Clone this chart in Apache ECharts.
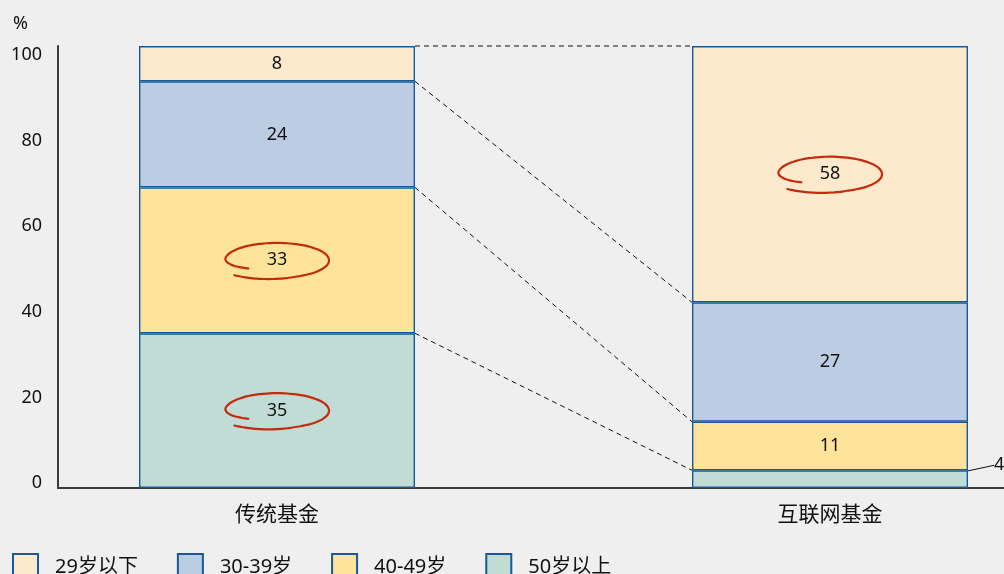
<!DOCTYPE html>
<html><head><meta charset="utf-8">
<script src="https://cdn.jsdelivr.net/npm/echarts@6/dist/echarts.min.js"></script>
<style>html,body{margin:0;padding:0;background:#efefef;}#c{width:1004px;height:574px;}</style>
</head><body><div id="c"></div>
<script>
const categories = ['传统基金', '互联网基金'];
const ageGroups = ['29岁以下', '30-39岁', '40-49岁', '50岁以上'];
const v29 = [8, 58];
const v30 = [24, 27];
const v40 = [33, 11];
const v50 = [35, 4];
const yTicks = [0, 20, 40, 60, 80, 100];
const circled = [['40-49岁', 0], ['50岁以上', 0], ['29岁以下', 1]];

const FONT = '"Noto Sans", "Noto Sans CJK SC", sans-serif';
const BAR_W = 276, HALF = BAR_W / 2;
const colors = { '29岁以下': '#fde9cc', '30-39岁': '#bccce2', '40-49岁': '#fee49a', '50岁以上': '#c0dcd5' };
const valuesByName = { '29岁以下': v29, '30-39岁': v30, '40-49岁': v40, '50岁以上': v50 };
const stackOrder = ['50岁以上', '40-49岁', '30-39岁', '29岁以下'];

const cum = categories.map((_, ci) => {
  let s = 0; const b = {};
  stackOrder.forEach(n => { b[n] = [s, s + valuesByName[n][ci]]; s += valuesByName[n][ci]; });
  return b;
});
const connectors = stackOrder.map(n => [0, 1, cum[0][n][1], cum[1][n][1]]);
const ellipses = circled.map(([n, ci]) => [ci, (cum[ci][n][0] + cum[ci][n][1]) / 2]);

const barSeries = stackOrder.map(n => ({
  name: n, type: 'bar', stack: 'a', barWidth: BAR_W, xAxisIndex: 2, yAxisIndex: 2,
  itemStyle: { color: colors[n], borderColor: '#175a97', borderWidth: 1.4 },
  label: { show: true, position: 'inside', color: '#111', fontSize: 18, fontFamily: FONT },
  data: valuesByName[n].map((v, ci) => {
    const d = { value: v };
    if (v < 6) {
      d.label = { position: [302, -5], align: 'left', verticalAlign: 'middle' };
      d.labelLine = { show: true, lineStyle: { color: '#111', width: 1 } };
    }
    return d;
  }),
  emphasis: { disabled: true }
}));

function kOf(deg) {
  if (deg < 190) { const f = (deg - 140) / 50; return 0.72 + 0.28 * Math.sin(f * Math.PI / 2); }
  if (deg < 430) return 1.0;
  const f = (deg - 430) / 64; return 1.0 + 0.18 * f;
}

const AX = { color: '#3a3a3a', width: 2 };
const chart = echarts.init(document.getElementById('c'));
chart.setOption({
  backgroundColor: '#efefef',
  animation: false,
  textStyle: { fontFamily: FONT },
  grid: [
    { left: 58, right: 0, top: 46, bottom: 86, outerBoundsMode: 'none' },
    { left: 58, right: 0, top: 55, bottom: 91, outerBoundsMode: 'none' },
    { left: 0.5, width: 1106, top: 46, bottom: 86, outerBoundsMode: 'none' }
  ],
  legend: {
    data: ageGroups, left: 7, top: 548, icon: 'rect', itemWidth: 25, itemHeight: 26, itemGap: 39,
    textStyle: { fontSize: 20, color: '#111', fontFamily: FONT, padding: [0, 0, 0, 12] },
    selectedMode: false
  },
  xAxis: [
    { gridIndex: 0, type: 'value', min: 0, max: 1, splitLine: { show: false }, axisTick: { show: false },
      axisLabel: { show: false }, axisLine: { show: true, onZero: false, lineStyle: AX } },
    { gridIndex: 1, type: 'value', min: 0, max: 1, show: false },
    { gridIndex: 2, type: 'category', data: categories,
      axisLine: { show: false }, axisTick: { show: false }, splitLine: { show: false },
      axisLabel: { margin: 17, fontSize: 21, color: '#111', fontFamily: FONT } }
  ],
  yAxis: [
    { gridIndex: 0, type: 'value', min: 0, max: 100, interval: 20, splitLine: { show: false }, axisTick: { show: false },
      axisLabel: { show: false }, axisLine: { show: true, onZero: false, lineStyle: AX },
      name: '%', nameLocation: 'end', nameGap: 13,
      nameTextStyle: { fontSize: 18, color: '#111', align: 'right', padding: [0, 30, 0, 0], fontFamily: FONT } },
    { gridIndex: 1, type: 'value', min: 0, max: 100, interval: 20, splitLine: { show: false }, axisTick: { show: false },
      axisLine: { show: false },
      axisLabel: { margin: 16, fontSize: 18, color: '#111', fontFamily: FONT, customValues: yTicks } },
    { gridIndex: 2, type: 'value', min: 0, max: 100, show: false }
  ],
  series: barSeries.concat([
    {
      type: 'custom', name: 'connectors', silent: true, clip: false, z: 5, xAxisIndex: 2, yAxisIndex: 2,
      encode: { x: [0, 1], y: [2, 3] },
      data: connectors,
      renderItem: (params, api) => {
        const p0 = api.coord([api.value(0), api.value(2)]);
        const p1 = api.coord([api.value(1), api.value(3)]);
        return { type: 'line', shape: { x1: p0[0] + HALF, y1: p0[1], x2: p1[0] - HALF, y2: p1[1] },
          style: { stroke: '#111', lineWidth: 1, lineDash: [5, 4] } };
      }
    },
    {
      type: 'custom', name: 'circles', silent: true, clip: false, z: 10, xAxisIndex: 2, yAxisIndex: 2,
      encode: { x: 0, y: 1 },
      data: ellipses,
      renderItem: (params, api) => {
        const c = api.coord([api.value(0), api.value(1)]);
        const rx = 52, ry = 17.5, pts = [];
        for (let i = 0; i <= 90; i++) {
          const deg = 140 + (494 - 140) * i / 90, t = deg * Math.PI / 180, k = kOf(deg);
          pts.push([c[0] + rx * k * Math.cos(t), c[1] + ry * k * Math.sin(t)]);
        }
        return { type: 'polyline', shape: { points: pts, smooth: 0.3 },
          style: { stroke: '#c42a0e', lineWidth: 2.2, fill: null, lineCap: 'round' } };
      }
    }
  ])
});
</script></body></html>
